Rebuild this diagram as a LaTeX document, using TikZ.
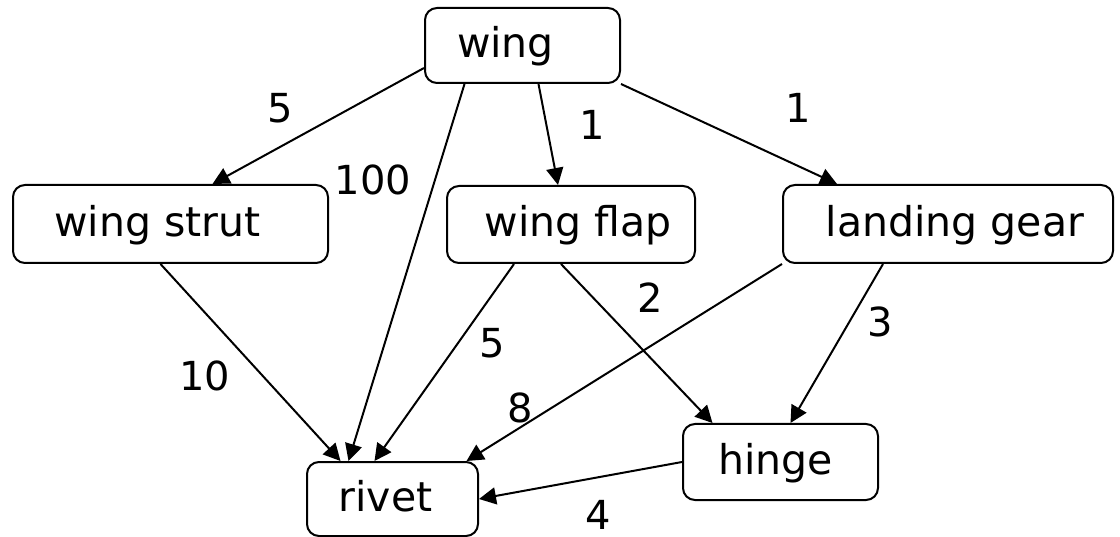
\documentclass[tikz,border=0pt]{standalone}
\usepackage{fontspec}
\setmainfont{DejaVu Sans}
\usetikzlibrary{arrows.meta,calc}

\begin{document}
\begin{tikzpicture}[x=1pt, y=-1pt,
	every node/.style={font=\fontsize{41}{49}\selectfont},
	part/.style={draw, line width=2pt, rounded corners=12pt, text height=31pt, text depth=6pt},
	weight/.style={font=\fontsize{40}{48}\selectfont, inner sep=0pt},
	edge/.style={line width=2pt, -{Triangle[length=17pt, width=17pt]}}]

\useasboundingbox (0,0) rectangle (1120,537);

% Parts (the kerns push the text off centre as in the drawing)
\node[part, minimum width=195pt, minimum height=75pt] (wing) at (522.5,45.5) {wing\kern34pt};
\node[part, minimum width=315pt, minimum height=78pt] (strut) at (170.5,224) {wing strut\kern26pt};
\node[part, minimum width=248pt, minimum height=77pt] (flap) at (571,224.5) {\kern14pt wing flap};
\node[part, minimum width=330pt, minimum height=78pt] (gear) at (948,224) {\kern14pt landing gear};
\node[part, minimum width=195pt, minimum height=76pt] (hinge) at (780.5,462) {hinge\kern10pt};
\node[part, minimum width=171pt, minimum height=74pt] (rivet) at (392.5,499) {rivet\kern14pt};

% Arrows between parts
\draw[edge] ($(wing.west)+(0,22.5)$) -- ($(strut.north)+(42,0)$);
\draw[edge] ($(wing.south)+(-58,0)$) -- ($(rivet.north)+(-44,0)$);
\draw[edge] ($(wing.south)+(16,0)$) -- ($(flap.north)+(-13,0)$);
\draw[edge] (wing.south east) -- ($(gear.north)+(-111,0)$);
\draw[edge] ($(strut.south)+(-10,0)$) -- ($(rivet.north)+(-52,0)$);
\draw[edge] ($(flap.south)+(-57,0)$) -- ($(rivet.north)+(-18,0)$);
\draw[edge] ($(flap.south)+(-10,0)$) -- ($(hinge.north)+(-68,0)$);
\draw[edge] (gear.south west) -- ($(rivet.north)+(74,0)$);
\draw[edge] ($(gear.south)+(-65,0)$) -- ($(hinge.north)+(10,0)$);
\draw[edge] (hinge.west) -- (rivet.east);

% Weights
\node[weight] (w1) at (280,108) {5};
\node[weight] (w2) at (373,180) {100};
\node[weight] (w3) at (592,125) {1};
\node[weight] (w4) at (798,108) {1};
\node[weight] (w5) at (205,376) {10};
\node[weight] (w6) at (492,343) {5};
\node[weight] (w7) at (650,298) {2};
\node[weight] (w8) at (520,408) {8};
\node[weight] (w9) at (880,322) {3};
\node[weight] (w10) at (598,515) {4};

\end{tikzpicture}
\end{document}
